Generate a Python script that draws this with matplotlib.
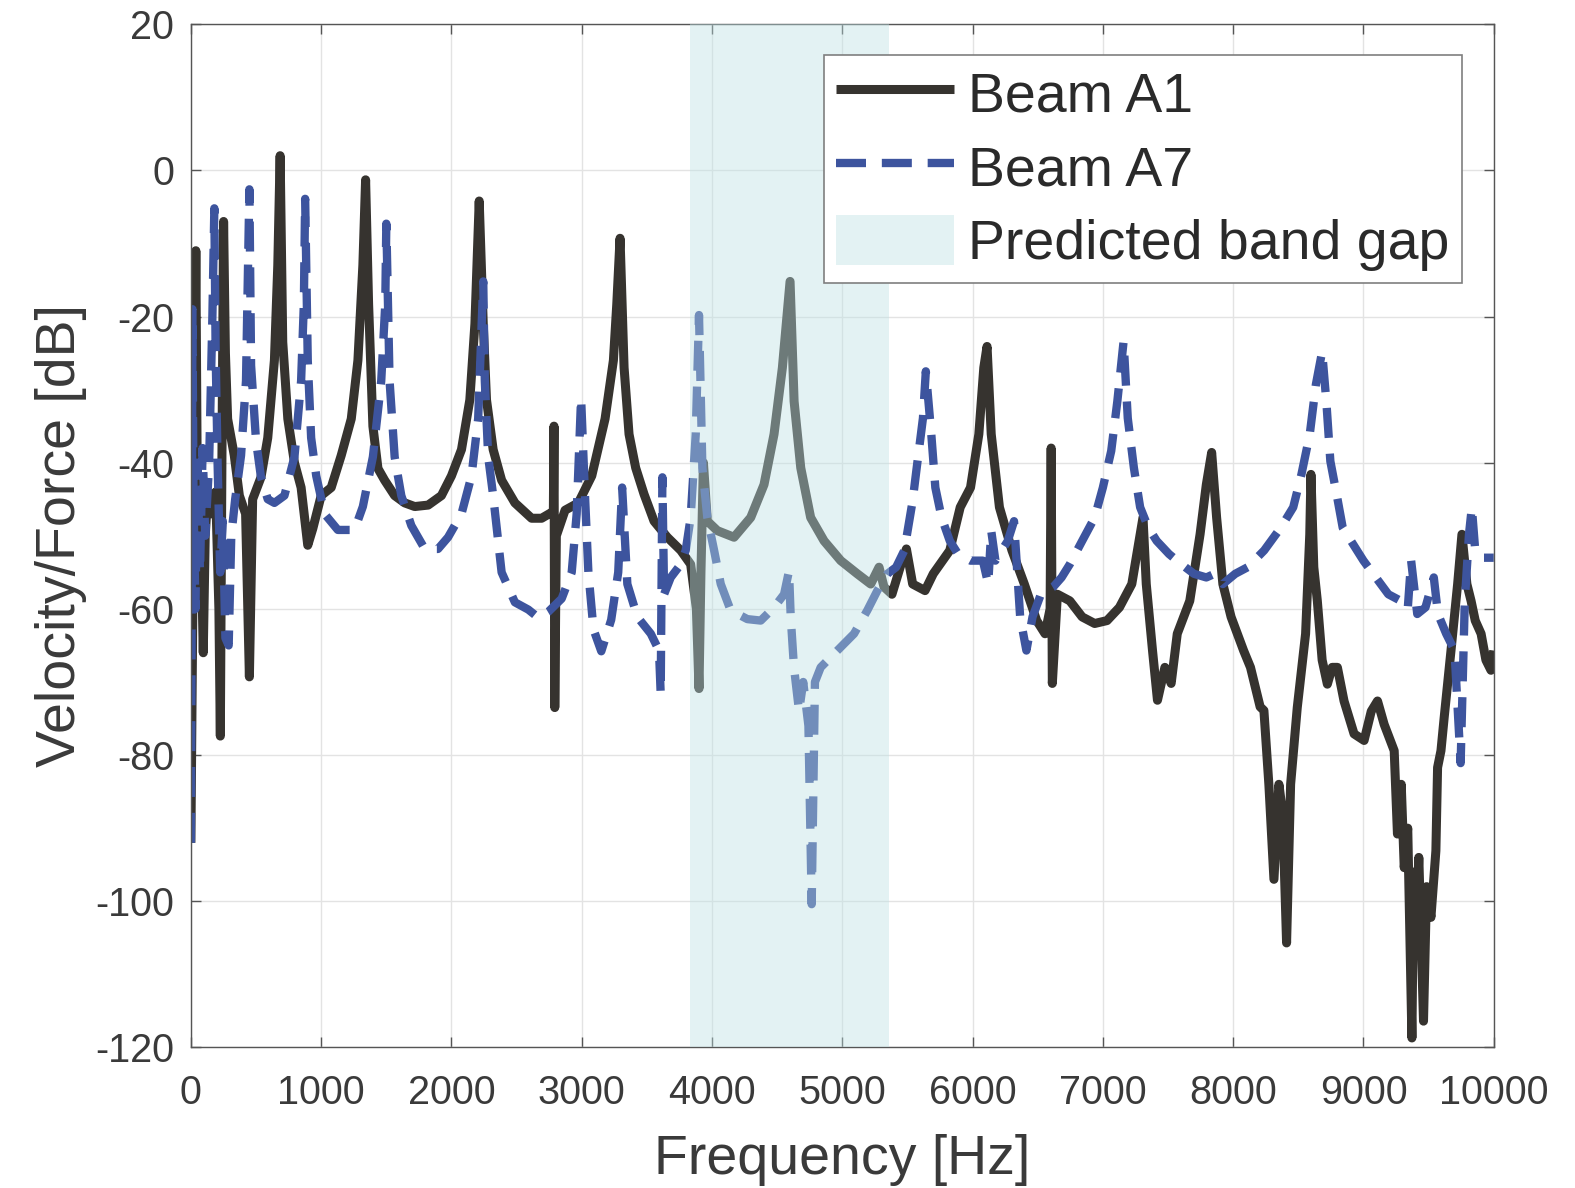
import matplotlib
matplotlib.use('Agg')
import matplotlib.pyplot as plt

plt.rcParams['font.family'] = ['Liberation Sans', 'DejaVu Sans']
plt.rcParams['axes.unicode_minus'] = False

# Beam A1 (solid) - frequency [Hz], level [dB]
a1_freq = [0, 10, 20, 30, 38, 48, 60, 75, 95, 110, 130, 160, 190, 215, 226, 238, 251, 265,
           282, 333, 372, 420, 449, 474, 538, 590, 641, 667, 685, 705, 744, 795, 846, 897,
           936, 1000, 1077, 1154, 1231, 1282, 1320, 1341, 1364, 1397, 1436, 1487, 1564, 1641,
           1718, 1821, 1923, 2000, 2077, 2141, 2180, 2213, 2244, 2269, 2320, 2385, 2487, 2615,
           2692, 2769, 2782, 2787, 2793, 2805, 2872, 2974, 3077, 3179, 3243, 3269, 3294, 3325,
           3363, 3414, 3478, 3555, 3657, 3760, 3836, 3880, 3900, 3915, 3934, 3964, 4041, 4169,
           4297, 4399, 4476, 4540, 4599, 4630, 4681, 4757, 4860, 4988, 5115, 5218, 5282, 5320,
           5381, 5444, 5492, 5540, 5635, 5698, 5825, 5905, 5984, 6048, 6086, 6111, 6143, 6206,
           6302, 6397, 6492, 6556, 6595, 6603, 6612, 6651, 6746, 6841, 6937, 7032, 7127, 7222,
           7286, 7308, 7333, 7381, 7419, 7476, 7524, 7571, 7667, 7746, 7794, 7835, 7873, 7921,
           7984, 8080, 8133, 8207, 8236, 8274, 8313, 8351, 8380, 8410, 8441, 8492, 8556, 8588,
           8597, 8619, 8646, 8683, 8723, 8760, 8800, 8851, 8928, 9005, 9060, 9108, 9159, 9236,
           9261, 9290, 9313, 9340, 9372, 9385, 9402, 9425, 9461, 9485, 9518, 9556, 9569, 9595,
           9620, 9672, 9723, 9756, 9794, 9826, 9858, 9903, 9940, 9979, 10000]
a1_db = [-92, -70, -50, -30, -11, -40, -55, -48, -66, -50, -44, -47, -44, -60, -77.4, -40, -7, -25,
         -34, -39, -44.5, -47, -69.3, -45, -42, -36.6, -26, -13, 2, -23.5, -34, -40, -43.4, -51.3,
         -49, -44.5, -43.4, -39, -34, -26, -13, -1.3, -18.3, -35, -40.8, -42.4, -44.5, -45.5,
         -46, -45.8, -44.5, -41.8, -38.2, -31.4, -21, -4.2, -21, -31.4, -38.2, -42.4, -45.5, -47.6,
         -47.6, -46.8, -47, -35, -73.5, -50, -46.5, -45.5, -41.8, -34, -26, -18.3, -9.3, -27,
         -36.1, -40.7, -44.3, -48, -50.2, -52, -53.9, -60, -70.9, -55, -40, -48, -49.3, -50.2,
         -47.5, -43, -36.1, -27, -15.2, -31.6, -40.7, -47.5, -50.7, -53.4, -55.2, -56.6, -54.3, -57,
         -58, -54.3, -51.8, -56.6, -57.5, -55.2, -52, -46.1, -43.4, -36.1, -27, -24.1, -36.1, -46.1,
         -52, -56.6, -61.6, -63.4, -60, -38, -70.2, -58, -58.9, -61.1, -62, -61.6, -59.8, -56.6,
         -49.8, -47.5, -56.6, -65.7, -72.5, -68, -70.2, -63.4, -58.9, -49.8, -43, -38.6, -47.5, -56.6,
         -61.1, -65.7, -68, -73.4, -73.9, -84, -97, -84, -88, -105.7, -84, -73.5, -63.4, -49.8,
         -41.6, -54.3, -58.9, -67, -70.3, -68, -68, -72.6, -77.1, -78, -74, -72.6, -75.8, -79.4,
         -90.8, -84, -95.4, -90, -118.7, -96, -104.5, -94, -116.4, -98, -102.2, -93.1, -81.7, -79.4,
         -74.8, -65.7, -56.6, -49.8, -56.6, -58.9, -61.6, -63.4, -67, -68.4, -65.7]

# Beam A7 (dashed)
a7_freq = [0, 5, 12, 20, 35, 50, 70, 90, 110, 140, 165, 180, 190, 205, 225, 245, 265, 290,
           310, 340, 385, 423, 449, 462, 500, 538, 590, 641, 718, 795, 846, 867, 877, 897,
           923, 962, 1026, 1128, 1256, 1320, 1397, 1461, 1492, 1500, 1525, 1564, 1615, 1692,
           1795, 1897, 1974, 2077, 2154, 2205, 2244, 2256, 2282, 2320, 2385, 2487, 2590, 2667,
           2743, 2846, 2923, 2961, 2995, 3025, 3051, 3090, 3150, 3226, 3280, 3310, 3350, 3427,
           3530, 3593, 3606, 3619, 3632, 3683, 3760, 3798, 3836, 3875, 3900, 3926, 3964, 4016,
           4067, 4143, 4271, 4374, 4476, 4553, 4591, 4604, 4629, 4668, 4700, 4740, 4765, 4790,
           4834, 4962, 5090, 5192, 5269, 5346, 5413, 5476, 5540, 5571, 5619, 5641, 5683, 5714,
           5762, 5825, 5889, 5984, 6079, 6120, 6143, 6175, 6270, 6318, 6349, 6365, 6413, 6460,
           6524, 6619, 6683, 6746, 6841, 6937, 7000, 7064, 7111, 7159, 7191, 7238, 7286, 7349,
           7413, 7508, 7603, 7699, 7794, 7857, 7921, 8016, 8111, 8238, 8365, 8461, 8524, 8588,
           8635, 8683, 8715, 8746, 8794, 8841, 8905, 9000, 9095, 9191, 9286, 9340, 9366, 9413,
           9476, 9540, 9572, 9635, 9699, 9746, 9778, 9810, 9832, 9858, 9921, 10000]
a7_db = [-92, -66, -19, -45, -60, -40, -55, -38, -50, -40, -20, -5.2, -25, -40, -55, -48, -64, -65,
         -50, -45, -39, -28.8, -2.6, -26.7, -37, -42, -45, -45.5, -44.5, -39.2, -28.8, -18.3, -3.9, -26,
         -36.6, -41.8, -47, -49.2, -49.2, -46, -39.2, -28.8, -18.3, -7.3, -28.8, -39.2, -44.5, -48.6,
         -51.8, -51.8, -50.2, -47, -41.8, -34, -15.2, -28.8, -39.2, -44.5, -55, -59.1, -60.1, -61.2,
         -60.4, -58.6, -55, -47, -31.1, -44.5, -55, -62.8, -65.8, -61.5, -55, -43.4, -56.6, -61.1,
         -63.4, -65.7, -71.6, -42, -58, -55.7, -53.9, -52, -47.5, -36.1, -19.8, -40.7, -47.5, -52,
         -56.6, -60.2, -61.4, -61.6, -59.8, -58, -54.8, -61.1, -68, -74, -70, -76, -100.4, -70,
         -68, -65.7, -63.4, -60.2, -57.5, -55.2, -54.3, -52, -45.2, -40.7, -33.9, -27.5, -36.1, -43.4,
         -47.5, -50.7, -52.5, -53.4, -53.4, -56.6, -49.3, -53.4, -50.7, -48, -56.6, -61.1, -65.7, -61.1,
         -58, -57, -55.7, -53.9, -50.7, -47.5, -43.4, -38.4, -31.6, -23.4, -33.9, -40.7, -46.1, -48.9,
         -50.7, -52.5, -53.9, -55.2, -55.7, -55.2, -56.6, -55.2, -54.3, -52, -48.9, -46.1, -41.6, -36.1,
         -29.3, -24.8, -31.6, -39.8, -44.3, -48.9, -50.7, -53.4, -55.7, -58, -58.9, -60, -53.4, -60.7,
         -59.8, -55.7, -60.7, -63.4, -65.7, -81.1, -58.9, -49.8, -46.1, -52, -53, -53]

# predicted band gap [Hz]
gap_start = 3830
gap_end = 5360

x_ticks = list(range(0, 10001, 1000))
y_ticks = list(range(-120, 21, 20))

txt = '#3a3a3a'

fig = plt.figure(figsize=(15.75, 11.88), dpi=100)
ax = fig.add_axes([0.1212, 0.1183, 0.8272, 0.8614])

ax.plot(a1_freq, a1_db, color='#36332f', lw=6.5, solid_joinstyle='round',
        solid_capstyle='butt', label='Beam A1', zorder=2)
ax.plot(a7_freq, a7_db, color='#3d549e', lw=6.0, linestyle=(0, (3.6, 1.9)),
        dash_capstyle='butt', dash_joinstyle='round', label='Beam A7', zorder=2.5)
ax.axvspan(gap_start, gap_end, facecolor='#bde1e4', alpha=0.41, lw=0,
           label='Predicted band gap', zorder=3)

ax.set_xlim(0, 10000)
ax.set_ylim(-120, 20)
ax.set_xticks(x_ticks)
ax.set_yticks(y_ticks)
ax.grid(True, color='#e3e3e3', lw=1)
ax.set_axisbelow(True)

ax.tick_params(direction='in', length=7, width=1, colors='#555555', labelcolor=txt,
               labelsize=28.5, top=True, right=True)
ax.tick_params(axis='x', pad=19)
ax.tick_params(axis='y', pad=12)
for s in ax.spines.values():
    s.set_color('#555555')
    s.set_linewidth(1)

ax.set_xlabel('Frequency [Hz]', fontsize=40, color=txt, labelpad=16)
ax.set_ylabel('Velocity/Force [dB]', fontsize=40, color=txt, labelpad=6)

leg = ax.legend(loc='upper right', bbox_to_anchor=(0.9753, 0.9696), borderaxespad=0,
                fontsize=40, fancybox=False, framealpha=1, edgecolor='#7f7f7f',
                handlelength=2.12, handleheight=1.0, handletextpad=0.25,
                labelspacing=0.32, borderpad=0.22)
for t in leg.get_texts():
    t.set_color('#2a2a2a')
leg.get_frame().set_linewidth(1.2)

fig.savefig('out.png', dpi=100)
